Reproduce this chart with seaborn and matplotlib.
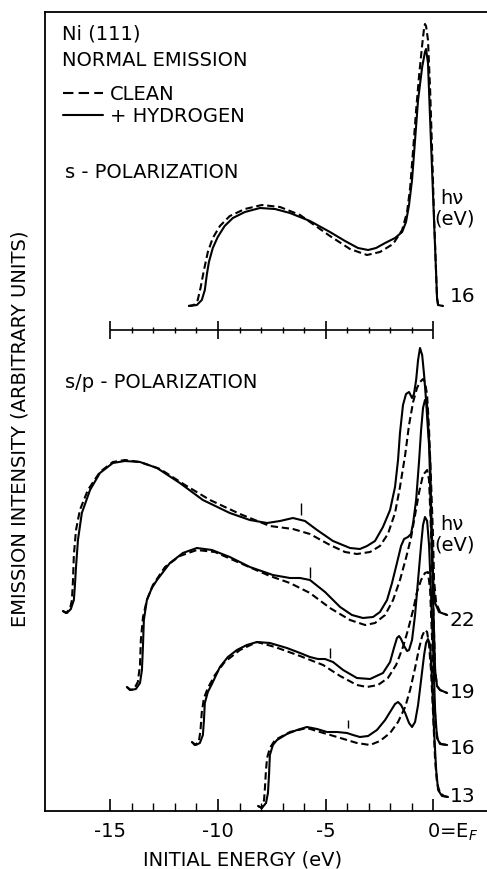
import numpy as np
import pandas as pd
import matplotlib
matplotlib.use("Agg")
import matplotlib.pyplot as plt
import matplotlib.transforms as mtransforms
from matplotlib.lines import Line2D
import seaborn as sns

# ---------------- data ----------------
# energies in eV (initial energy), intensities in arbitrary units above each trace's baseline
s16_H_E = [-11.30, -10.98, -10.75, -10.61, -10.52, -10.42, -10.24, -10.01, -9.69, -9.31, -8.75, -8.05, -7.35,
           -6.66, -5.73, -4.80, -4.10, -3.50, -3.03, -2.66, -2.24, -1.78, -1.45, -1.27, -1.13, -0.99, -0.85,
           -0.71, -0.52, -0.39, -0.34, -0.25, -0.15, -0.06, 0.03, 0.13, 0.17, 0.22, 0.45]
s16_H_I = [0, 1, 6, 16, 31, 44, 58, 69, 80, 88, 94, 98, 97, 93, 85, 74, 65, 58, 56, 58, 63, 68, 74, 84, 101,
           126, 166, 206, 239, 254, 257, 243, 186, 136, 86, 31, 8, 1, 0]
s16_C_E = [-11.39, -11.12, -10.94, -10.81, -10.65, -10.47, -10.24, -9.91, -9.45, -8.75, -7.96, -7.12, -6.19,
           -4.80, -3.87, -3.08, -2.48, -1.87, -1.45, -1.22, -1.08, -0.94, -0.80, -0.66, -0.52, -0.43, -0.39,
           -0.34, -0.25, -0.15, -0.06, 0.03, 0.13, 0.17, 0.22, 0.45]
s16_C_I = [0, 1, 6, 18, 36, 54, 68, 80, 90, 97, 101, 99, 91, 70, 57, 51, 54, 62, 76, 94, 118, 156, 196, 231,
           261, 278, 282, 280, 266, 216, 156, 91, 31, 8, 1, 0]

sp22_H_E = [-17.20, -17.01, -16.83, -16.69, -16.64, -16.59, -16.50, -16.32, -15.94, -15.48, -14.88, -14.32,
            -13.62, -12.83, -11.77, -10.70, -9.45, -8.52, -7.72, -7.12, -6.52, -5.96, -5.40, -4.66, -3.87,
            -3.41, -3.08, -2.71, -2.34, -2.01, -1.78, -1.64, -1.55, -1.41, -1.27, -1.13, -0.99, -0.90, -0.80,
            -0.71, -0.62, -0.52, -0.43, -0.34, -0.25, -0.15, -0.11, -0.06, -0.01, 0.08, 0.26, 0.64]
sp22_H_I = [1, -1, 3, 12, 27, 45, 72, 99, 122, 139, 149, 151, 150, 144, 129, 112, 99, 92, 89, 91, 94, 91, 82,
            71, 64, 63, 66, 71, 85, 102, 125, 152, 179, 207, 218, 220, 214, 218, 232, 252, 264, 257, 237, 212,
            182, 152, 112, 72, 32, 9, 0, -3]
sp22_C_E = [-17.20, -17.06, -16.87, -16.78, -16.73, -16.69, -16.59, -16.41, -16.04, -15.48, -14.88, -14.32,
            -13.62, -12.69, -11.53, -10.37, -8.98, -7.59, -6.52, -5.73, -4.80, -4.10, -3.55, -2.94, -2.48,
            -2.11, -1.78, -1.55, -1.31, -1.13, -0.94, -0.76, -0.62, -0.48, -0.39, -0.29, -0.20, -0.11, -0.01,
            0.03, 0.13, 0.31, 0.64]
sp22_C_I = [1, -1, 3, 12, 32, 57, 82, 102, 122, 140, 150, 152, 150, 143, 127, 112, 98, 86, 83, 78, 67, 60, 58,
            60, 66, 78, 99, 125, 157, 187, 210, 224, 230, 233, 230, 217, 182, 132, 72, 32, 9, 0, -3]

sp19_H_E = [-14.23, -14.04, -13.81, -13.62, -13.53, -13.48, -13.44, -13.30, -13.07, -12.83, -12.23, -11.63,
            -10.98, -10.28, -9.45, -8.52, -7.45, -6.66, -6.19, -5.73, -5.03, -4.33, -3.78, -3.27, -2.80, -2.48,
            -2.15, -1.92, -1.69, -1.50, -1.36, -1.18, -1.04, -0.94, -0.80, -0.66, -0.57, -0.48, -0.39, -0.29,
            -0.20, -0.11, -0.01, 0.08, 0.17, 0.31, 0.64]
sp19_H_I = [3, 0, 1, 7, 20, 45, 70, 90, 102, 110, 127, 137, 142, 140, 133, 123, 115, 112, 112, 110, 98, 83, 75,
            72, 73, 78, 90, 107, 127, 144, 151, 153, 156, 167, 190, 230, 260, 282, 290, 285, 250, 170, 90, 20,
            4, 0, -3]
sp19_C_E = [-14.23, -14.09, -13.90, -13.72, -13.62, -13.58, -13.48, -13.30, -13.02, -12.46, -11.77, -10.98,
            -10.14, -8.98, -7.59, -6.66, -5.73, -4.80, -3.87, -3.17, -2.71, -2.24, -1.87, -1.55, -1.27, -1.04,
            -0.85, -0.66, -0.48, -0.29, -0.20, -0.11, -0.01, 0.08, 0.17, 0.31, 0.64]
sp19_C_I = [3, 0, 1, 8, 25, 50, 73, 90, 105, 123, 134, 140, 138, 127, 114, 107, 97, 82, 70, 65, 67, 75, 90,
            110, 132, 152, 175, 198, 215, 220, 210, 160, 90, 20, 4, 0, -3]

sp16_H_E = [-11.21, -11.03, -10.84, -10.70, -10.65, -10.61, -10.47, -10.28, -9.91, -9.54, -9.12, -8.66, -8.19,
            -7.59, -6.80, -6.19, -5.73, -5.36, -5.03, -4.66, -4.19, -3.55, -2.94, -2.34, -2.01, -1.83, -1.69,
            -1.59, -1.50, -1.36, -1.22, -1.13, -0.99, -0.85, -0.71, -0.57, -0.48, -0.39, -0.29, -0.20, -0.11,
            -0.01, 0.08, 0.17, 0.31, 0.64]
sp16_H_I = [2, -1, 1, 9, 24, 41, 52, 60, 77, 87, 94, 99, 102, 101, 96, 91, 87, 85, 85, 82, 74, 66, 65, 71, 82,
            96, 106, 108, 105, 98, 93, 94, 104, 129, 164, 199, 219, 227, 223, 199, 150, 94, 34, 6, 0, -1]
sp16_C_E = [-11.21, -11.08, -10.89, -10.81, -10.75, -10.65, -10.47, -10.14, -9.69, -8.98, -8.19, -7.35, -6.19,
            -5.12, -4.33, -3.55, -3.08, -2.57, -2.11, -1.73, -1.41, -1.18, -0.94, -0.76, -0.57, -0.39, -0.25,
            -0.15, -0.06, 0.03, 0.13, 0.22, 0.36, 0.64]
sp16_C_I = [2, -1, 2, 14, 32, 46, 56, 69, 82, 94, 102, 97, 88, 79, 68, 59, 57, 59, 66, 79, 97, 114, 134, 152,
            164, 171, 172, 154, 104, 44, 14, 3, 0, -1]

sp13_H_E = [-8.14, -7.96, -7.77, -7.68, -7.63, -7.59, -7.45, -7.26, -6.80, -6.33, -5.87, -5.40, -4.94, -4.47,
            -4.01, -3.73, -3.41, -3.03, -2.62, -2.24, -2.01, -1.78, -1.64, -1.50, -1.31, -1.13, -0.99, -0.85,
            -0.71, -0.57, -0.43, -0.34, -0.25, -0.15, -0.06, 0.03, 0.13, 0.22, 0.40, 0.68]
sp13_H_I = [1, -1, 4, 14, 32, 52, 62, 67, 73, 77, 80, 78, 75, 75, 74, 72, 70, 71, 77, 87, 95, 103, 105, 102,
            94, 84, 80, 85, 102, 127, 152, 164, 168, 162, 127, 77, 37, 17, 11, 10]
sp13_C_E = [-8.14, -7.96, -7.86, -7.82, -7.77, -7.72, -7.59, -7.35, -6.66, -5.87, -5.26, -4.47, -3.55, -2.94,
            -2.48, -2.01, -1.64, -1.31, -1.08, -0.85, -0.66, -0.52, -0.39, -0.29, -0.20, -0.11, -0.01, 0.08,
            0.17, 0.31, 0.50, 0.68]
sp13_C_I = [1, -1, 7, 19, 37, 49, 59, 67, 75, 79, 75, 70, 64, 62, 66, 74, 85, 100, 117, 139, 159, 171, 177,
            175, 162, 137, 92, 47, 24, 14, 11, 10]

photon_labels = ["16", "22", "19", "16", "13"]
trace_offsets = [505, 199, 121, 67, 4]
label_heights = [9, -8, -2, -4, 11]

# vertical markers above the hydrogen-induced feature (s/p traces)
marker_E = [-6.14, -5.73, -4.80, -3.97]
marker_lo = [97, 112, 86, 79]
marker_hi = [109, 123, 96, 87]
marker_offsets = [199, 121, 67, 4]

major_ticks = [-15, -10, -5, 0]
tick_labels = ["-15", "-10", "-5", "0=E$_F$"]

# ---------------- build long table ----------------
traces = [
    ("s16", "clean", s16_C_E, s16_C_I, 0), ("s16", "hydrogen", s16_H_E, s16_H_I, 0),
    ("sp22", "clean", sp22_C_E, sp22_C_I, 1), ("sp22", "hydrogen", sp22_H_E, sp22_H_I, 1),
    ("sp19", "clean", sp19_C_E, sp19_C_I, 2), ("sp19", "hydrogen", sp19_H_E, sp19_H_I, 2),
    ("sp16", "clean", sp16_C_E, sp16_C_I, 3), ("sp16", "hydrogen", sp16_H_E, sp16_H_I, 3),
    ("sp13", "clean", sp13_C_E, sp13_C_I, 4), ("sp13", "hydrogen", sp13_H_E, sp13_H_I, 4),
]
rows = []
for name, cond, E, I, k in traces:
    for e, i in zip(E, I):
        rows.append({"trace": name + "_" + cond, "condition": cond, "energy": e,
                     "y": i + trace_offsets[k]})
df = pd.DataFrame(rows)

# ---------------- plot ----------------
sns.set_theme(style="white")
plt.rcParams["font.family"] = ["DejaVu Sans"]
plt.rcParams["text.color"] = "black"
plt.rcParams["xtick.color"] = "black"
plt.rcParams["axes.labelcolor"] = "black"

W, H = 487, 869
fig = plt.figure(figsize=(W / 100, H / 100), dpi=100)
ax = fig.add_axes([45 / W, 1 - 811 / H, 1 - 45 / W, (811 - 12) / H])

dash_curve = (0, (3.5, 1.8))
for tr, sub in df.groupby("trace", sort=False):
    cond = sub["condition"].iloc[0]
    sns.lineplot(data=sub, x="energy", y="y", sort=False, estimator=None, ax=ax,
                 color="black", lw=1.5, legend=False,
                 linestyle=dash_curve if cond == "clean" else "-",
                 solid_joinstyle="round", solid_capstyle="round")

ax.set_xlim(-18.03, 2.49)
ax.set_ylim(0, 799)

# marker bars
ax.vlines(marker_E, np.array(marker_lo) + np.array(marker_offsets),
          np.array(marker_hi) + np.array(marker_offsets), color="black", lw=1.0)

# separator energy scale between panels
sep_y = 481
sep_minor = [t for t in range(-15, 1) if t not in major_ticks]
ax.hlines(sep_y, -15, 0, color="black", lw=1.2)
ax.vlines(major_ticks, sep_y - 9, sep_y + 9, color="black", lw=1.2)
ax.vlines(sep_minor, sep_y - 3, sep_y + 3, color="black", lw=1.0)

# spines / ticks
for s in ["left", "bottom", "top"]:
    ax.spines[s].set_visible(True)
    ax.spines[s].set_color("black")
    ax.spines[s].set_linewidth(1.3)
ax.spines["right"].set_visible(False)
ax.set_yticks([])
ax.set_xticks(major_ticks)
ax.set_xticks(sep_minor, minor=True)
ax.set_xticklabels(tick_labels)
ax.tick_params(axis="x", which="major", direction="in", length=9, width=1.2, pad=8,
               labelsize=14, bottom=True, top=False, colors="black")
ax.tick_params(axis="x", which="minor", direction="in", length=6, width=1.0, bottom=True, top=False)
ax.set_xlabel("")
ax.set_ylabel("")
lab0 = ax.get_xticklabels()[-1]
lab0.set_horizontalalignment("left")
lab0.set_transform(lab0.get_transform() + mtransforms.ScaledTranslation(-6 / 100, 0, fig.dpi_scale_trans))

fs = 14
ax.text(-17.25, 777, "Ni (111)", fontsize=fs, ha="left", va="center")
ax.text(-17.25, 751, "NORMAL EMISSION", fontsize=fs, ha="left", va="center")
ax.text(-17.11, 639, "s - POLARIZATION", fontsize=fs, ha="left", va="center")
ax.text(-17.11, 429, "s/p - POLARIZATION", fontsize=fs, ha="left", va="center")

handles = [Line2D([], [], color="black", lw=1.5, linestyle=(0, (5, 2.5))),
           Line2D([], [], color="black", lw=1.5, linestyle="-")]
ax.legend(handles, ["CLEAN", "+ HYDROGEN"], loc="upper left",
          bbox_to_anchor=((63 - 45) / 442, (811 - 85) / 799), frameon=False, fontsize=fs,
          handlelength=2.05, handletextpad=0.35, labelspacing=0.13, borderpad=0, borderaxespad=0)

for k, lab in enumerate(photon_labels):
    ax.text(0.75, trace_offsets[k] + label_heights[k], lab, fontsize=14.5, ha="left", va="center")
for y_h, y_e in [(612, 592), (287, 266)]:
    ax.text(0.84, y_h, "h\u03bd", fontsize=fs, ha="center", va="center")
    ax.text(0.98, y_e, "(eV)", fontsize=fs, ha="center", va="center")

fig.text(243 / W, 1 - 860 / H, "INITIAL ENERGY (eV)", fontsize=fs, ha="center", va="center")
fig.text(20 / W, 1 - 429 / H, "EMISSION INTENSITY (ARBITRARY UNITS)", fontsize=14,
         rotation=90, ha="center", va="center")

fig.savefig("out.png", dpi=100, facecolor="white")
